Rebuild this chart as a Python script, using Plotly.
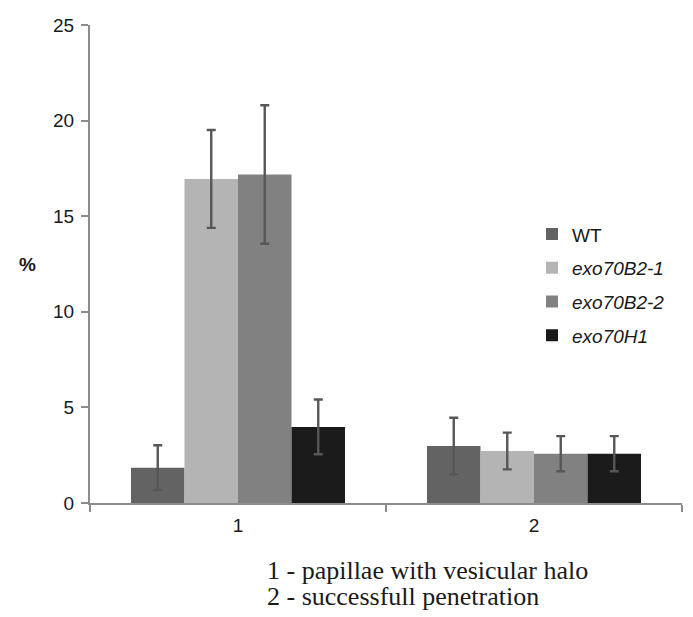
import plotly.graph_objects as go

categories = ["1", "2"]
series_names = ["WT", "<i>exo70B2-1</i>", "<i>exo70B2-2</i>", "<i>exo70H1</i>"]
wt = [1.85, 2.98]
exo70b2_1 = [16.95, 2.72]
exo70b2_2 = [17.18, 2.58]
exo70h1 = [3.98, 2.58]
wt_err = [1.17, 1.48]
exo70b2_1_err = [2.56, 0.96]
exo70b2_2_err = [3.62, 0.92]
exo70h1_err = [1.43, 0.92]
colors = ["#636363", "#b4b4b4", "#818181", "#1b1b1b"]

values = [wt, exo70b2_1, exo70b2_2, exo70h1]
errors = [wt_err, exo70b2_1_err, exo70b2_2_err, exo70h1_err]

fig = go.Figure()
for name, v, e, c in zip(series_names, values, errors, colors):
    fig.add_trace(go.Bar(
        x=categories, y=v, name=name, legendgroup=name,
        marker=dict(color=c, line=dict(width=0)),
        error_y=dict(type="data", array=e, visible=True, color="#575757", thickness=2.4, width=4.5),
    ))

# page body has an 8px margin, so the figure is sized/offset accordingly
fig.update_layout(
    width=685, height=609,
    margin=dict(l=82, r=11, t=7, b=114),
    paper_bgcolor="white", plot_bgcolor="white",
    barmode="group", bargap=0.277, bargroupgap=0,
    font=dict(family="Arial, Liberation Sans, sans-serif", size=19, color="#1a1a1a"),
    showlegend=True,
    legend=dict(x=(524 - 82) / 592, y=0.602, xanchor="left", yanchor="top",
                font=dict(size=19, color="#1a1a1a"), bgcolor="rgba(0,0,0,0)",
                tracegroupgap=6, itemwidth=30),
)
fig.update_xaxes(
    type="category", showline=True, linecolor="#8c8c8c", linewidth=2,
    ticks="outside", tickson="boundaries", ticklen=7, tickcolor="#8c8c8c", tickwidth=2,
    showgrid=False, zeroline=False, tickfont=dict(size=19), ticklabelstandoff=4,
)
fig.update_yaxes(
    range=[0, 25], dtick=5, showline=True, linecolor="#8c8c8c", linewidth=2,
    ticks="outside", ticklen=7, tickcolor="#8c8c8c", tickwidth=2,
    showgrid=False, zeroline=False, tickfont=dict(size=19),
    ticklabeloverflow="allow", ticklabelstandoff=3,
)
fig.add_annotation(text="<b>%</b>", xref="paper", yref="paper", x=-0.1064, y=0.50,
                   xanchor="center", yanchor="middle",
                   showarrow=False, font=dict(size=19, color="#1a1a1a"))
fig.add_annotation(text="1 - papillae with vesicular halo", xref="paper", yref="paper",
                   x=0.2956, y=-0.1414, xanchor="left", yanchor="middle",
                   showarrow=False, font=dict(family="Liberation Serif, Times New Roman, serif", size=26, color="#1a1a1a"))
fig.add_annotation(text="2 - successfull penetration", xref="paper", yref="paper",
                   x=0.2956, y=-0.1946, xanchor="left", yanchor="middle",
                   showarrow=False, font=dict(family="Liberation Serif, Times New Roman, serif", size=26, color="#1a1a1a"))

fig.write_html("out.html")
